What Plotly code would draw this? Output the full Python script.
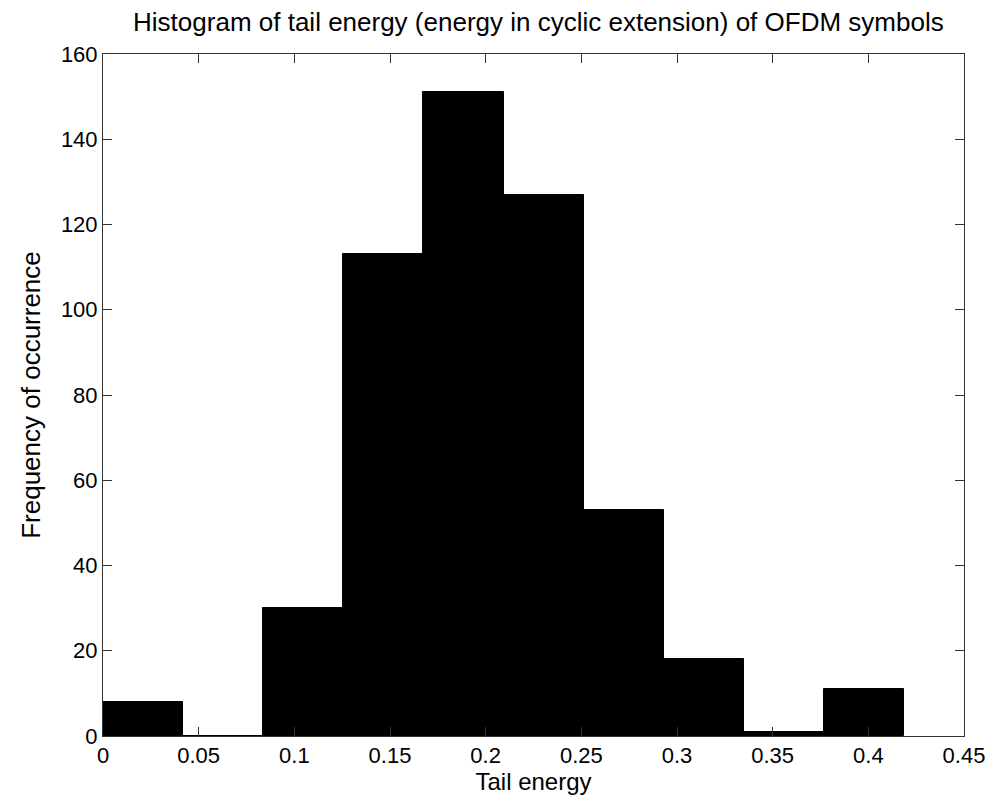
import numpy as np
import plotly.graph_objects as go

# Histogram counts per bin (10 equal bins between min and max tail energy)
counts = [8, 0, 30, 113, 151, 127, 53, 18, 1, 11]
bin_lo = 0.0
bin_hi = 0.4187

x_tick_vals = [0, 0.05, 0.1, 0.15, 0.2, 0.25, 0.3, 0.35, 0.4, 0.45]
x_tick_text = ["0", "0.05", "0.1", "0.15", "0.2", "0.25", "0.3", "0.35", "0.4", "0.45"]
y_tick_vals = [0, 20, 40, 60, 80, 100, 120, 140, 160]

edges = np.linspace(bin_lo, bin_hi, len(counts) + 1)
centers = (edges[:-1] + edges[1:]) / 2
width = edges[1] - edges[0]

font = "Liberation Sans, Arial, Helvetica, sans-serif"

fig = go.Figure(
    go.Bar(
        x=centers,
        y=counts,
        width=width,
        marker=dict(color="black", line=dict(color="black", width=1)),
        hoverinfo="x+y",
    )
)

axis_common = dict(
    showgrid=False,
    zeroline=False,
    showline=True,
    linecolor="#333333",
    linewidth=1,
    mirror="ticks",
    ticks="inside",
    ticklen=9,
    tickcolor="#333333",
    tickfont=dict(family=font, size=22, color="black"),
)

fig.update_layout(
    width=997,
    height=803,
    margin=dict(l=103, r=29, t=54, b=67),
    paper_bgcolor="white",
    plot_bgcolor="white",
    showlegend=False,
    bargap=0,
    title=dict(
        text="Histogram of tail energy (energy in cyclic extension) of OFDM symbols",
        font=dict(family=font, size=26, color="black"),
        x=0.54,
        xanchor="center",
        y=1 - 22 / 803,
        yanchor="middle",
    ),
    xaxis=dict(
        range=[0, 0.45],
        tickvals=x_tick_vals,
        ticktext=x_tick_text,
        title=dict(text="Tail energy", font=dict(family=font, size=24, color="black"), standoff=2),
        **axis_common,
    ),
    yaxis=dict(
        range=[0, 160],
        tickvals=y_tick_vals,
        title=dict(text="Frequency of occurrence", font=dict(family=font, size=26, color="black"), standoff=12),
        **axis_common,
    ),
)

fig.write_html("out.html")
